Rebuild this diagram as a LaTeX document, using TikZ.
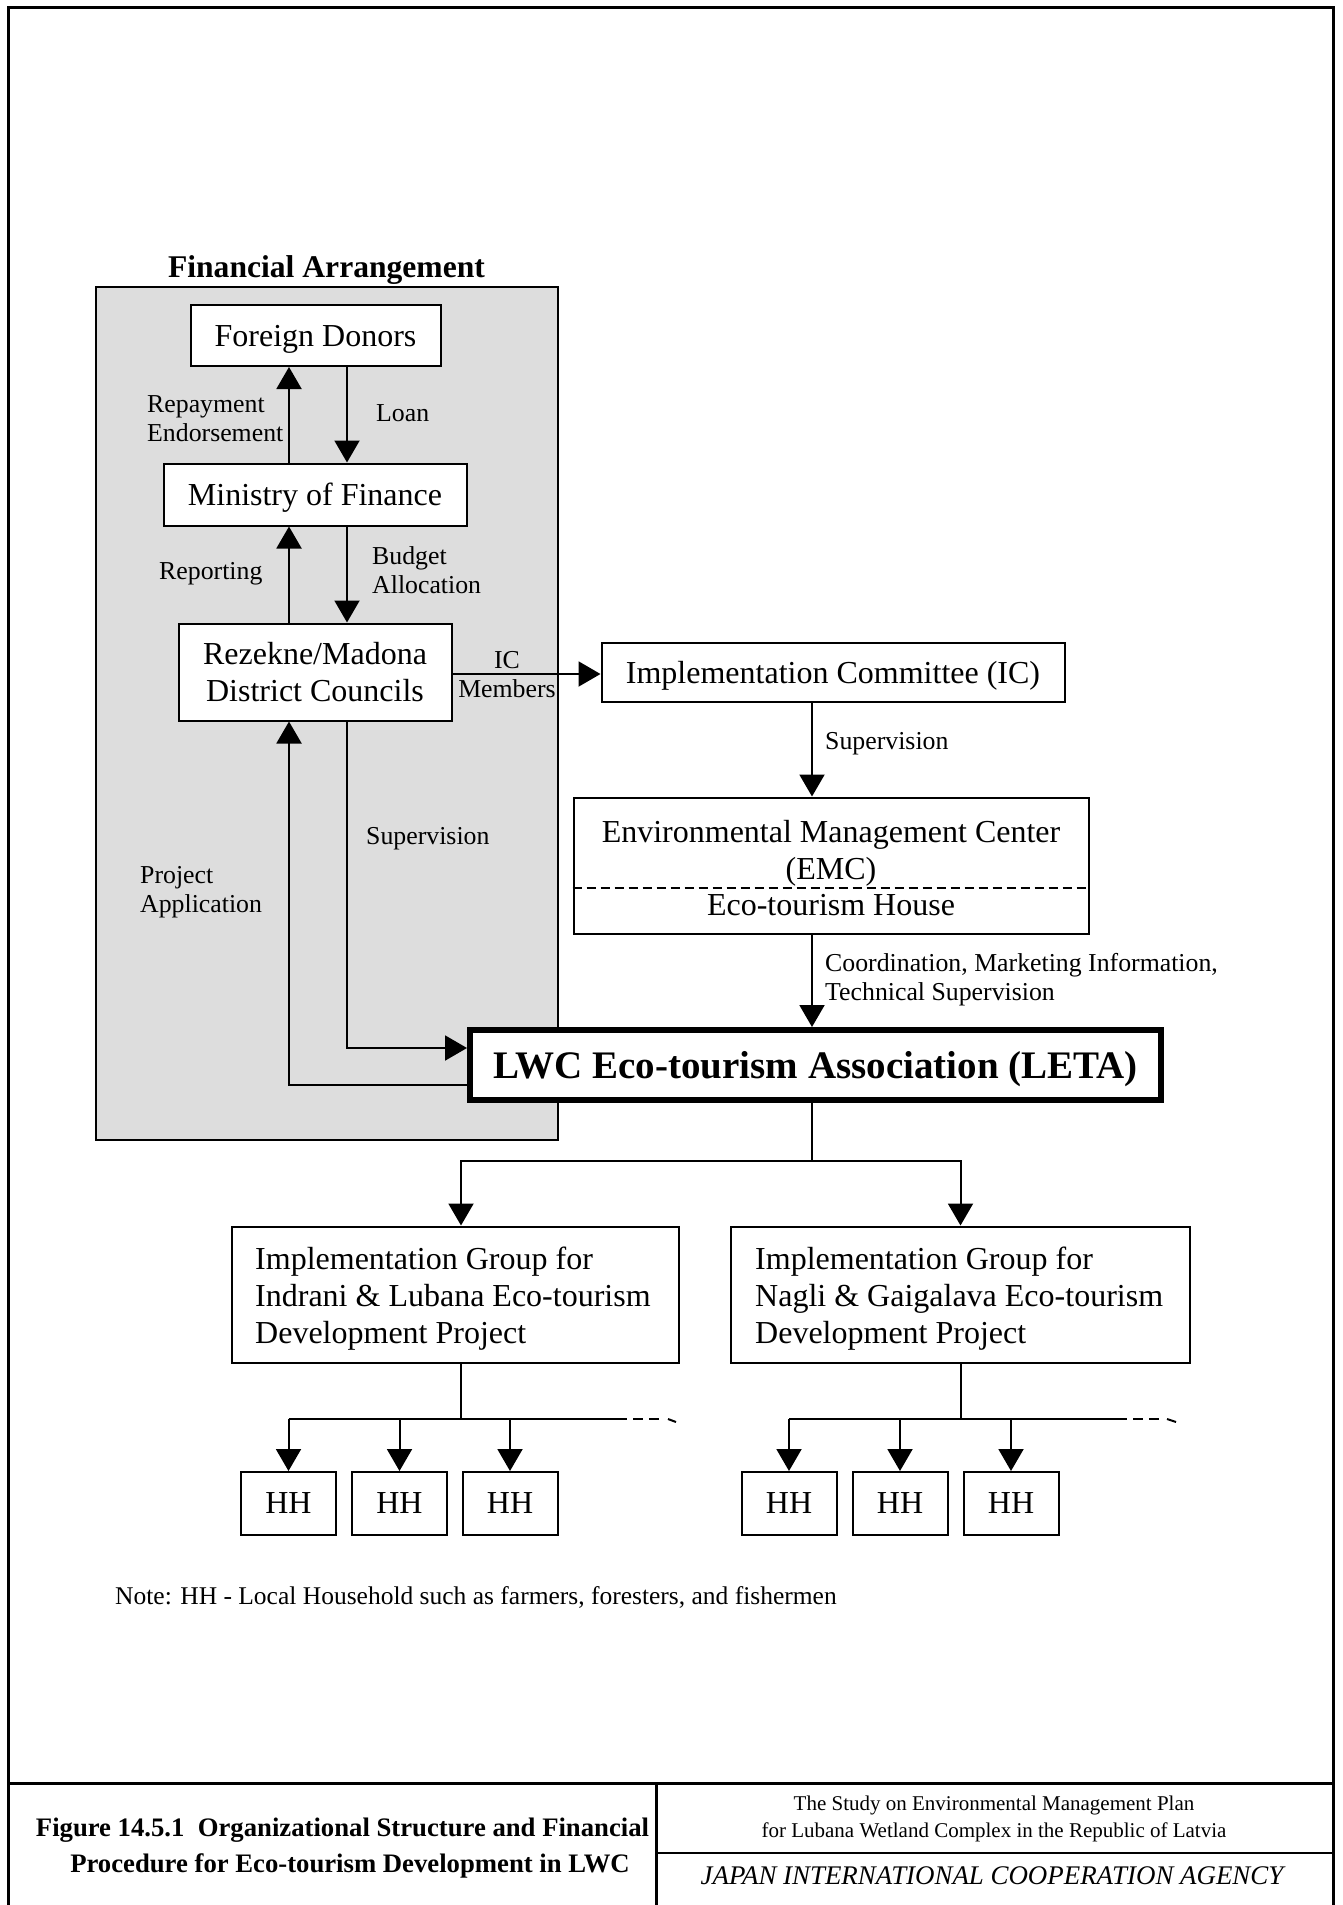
\documentclass[tikz,border=0pt]{standalone}
\usepackage{fontspec}
\setmainfont{Liberation Serif}
\usetikzlibrary{arrows.meta}
\definecolor{panelgray}{RGB}{221,221,221}
\begin{document}
\begin{tikzpicture}[x=1pt,y=-1pt,
  box/.style={draw,line width=2pt,fill=white,inner sep=0pt,align=center,text depth=0pt,font=\fontsize{32}{37}\selectfont},
  btext/.style={inner sep=0pt,font=\fontsize{32}{37}\selectfont},
  lbl/.style={inner sep=0pt,align=left,anchor=west,text depth=0pt,font=\fontsize{25.8}{29}\selectfont},
  arr/.style={line width=2pt,-{Triangle[width=25pt,length=22pt]}},
  ln/.style={line width=2pt},
  hh/.style={box,minimum width=95pt,minimum height=63pt},
]
\useasboundingbox (0,0) rectangle (1343,1905);
% outer frame and footer
\draw[line width=3pt] (8,1905) -- (8,8) -- (1333,8) -- (1333,1905);
\draw[line width=3pt] (8,1783) -- (1333,1783);
\draw[line width=3pt] (656,1783) -- (656,1905);
\draw[line width=1.5pt] (656,1853) -- (1333,1853);

% financial arrangement panel
\node[draw,line width=2pt,fill=panelgray,minimum width=462pt,minimum height=853pt,inner sep=0pt] (fin) at (327,713.5) {};
\node[inner sep=0pt,text depth=0pt,font=\bfseries\fontsize{31.6}{34}\selectfont] (fint) at (326.5,267) {Financial Arrangement};

% coordinates for vertical arrow lines
\coordinate (xl) at (289,0);
\coordinate (xr) at (347,0);
\coordinate (xm) at (812,0);
\coordinate (xa) at (461,0);
\coordinate (yic) at (0,674);
\coordinate (ys) at (0,1048);
\coordinate (yp) at (0,1085);

% boxes
\node[box,minimum width=250pt,minimum height=61pt] (fd) at (315.5,335.5) {Foreign Donors};
\node[box,minimum width=303pt,minimum height=62pt] (mof) at (315,494.5) {Ministry of Finance};
\node[box,minimum width=273pt,minimum height=97pt] (rz) at (315,672) {Rezekne/Madona\\District Councils};
\node[box,minimum width=463pt,minimum height=59pt] (ic) at (833,672) {Implementation Committee (IC)};
\node[box,minimum width=515pt,minimum height=136pt] (emc) at (831,865.5) {};
\node[btext,align=center] (emct) at (831,853.5) {Environmental Management Center\\(EMC)};
\node[btext] (emch) at (831,905) {Eco-tourism House};
\draw[line width=2pt,dash pattern=on 9pt off 5pt] (emc.west |- 0,888) -- (emc.east |- 0,888);
\node[box,line width=6pt,minimum width=691pt,minimum height=70pt,font=\bfseries\fontsize{39}{42}\selectfont] (leta) at (815.5,1065) {LWC Eco-tourism Association (LETA)};

\node[box,minimum width=447pt,minimum height=136pt] (igl) at (455,1294.5) {};
\node[btext,anchor=west,align=left] (iglt) at (255,1299) {Implementation Group for\\Indrani \& Lubana Eco-tourism\\Development Project};
\node[box,minimum width=459pt,minimum height=136pt] (igr) at (960.5,1294.5) {};
\node[btext,anchor=west,align=left] (igrt) at (755,1299) {Implementation Group for\\Nagli \& Gaigalava Eco-tourism\\Development Project};

\node[hh] (h1) at (288.5,1503.5) {HH};
\node[hh] (h2) at (399.5,1503.5) {HH};
\node[hh] (h3) at (510,1503.5) {HH};
\node[hh] (h4) at (789,1503.5) {HH};
\node[hh] (h5) at (900,1503.5) {HH};
\node[hh] (h6) at (1011,1503.5) {HH};

% connectors in financial arrangement
\draw[arr] (mof.north -| xl) -- (fd.south -| xl);
\draw[arr] (fd.south -| xr) -- (mof.north -| xr);
\draw[arr] (rz.north -| xl) -- (mof.south -| xl);
\draw[arr] (mof.south -| xr) -- (rz.north -| xr);
\draw[arr] (rz.south -| xr) |- (leta.west |- ys);
\draw[arr] (leta.west |- yp) -| (rz.south -| xl);
\draw[arr] (rz.east |- yic) -- (ic.west |- yic);
\draw[arr] (ic.south -| xm) -- (emc.north -| xm);
\draw[arr] (emc.south -| xm) -- (leta.north -| xm);

% LETA to groups
\coordinate (br) at (812,1161);
\draw[ln] (leta.south -| br) -- (br);
\draw[arr] (br) -| (igl.north -| xa);
\draw[arr] (br) -| (igr.north);

% groups to households
\coordinate (bl) at (0,1419);
\draw[ln] (igl.south -| xa) -- (xa |- bl);
\draw[line width=2.5pt] (h1.north |- bl) -- (617,1419);
\draw[line width=2.5pt,dash pattern=on 10pt off 6pt] (617,1419) -- (662,1419);
\draw[line width=2pt] (668,1419) -- (676,1422);
\draw[arr] (h1.north |- bl) -- (h1.north);
\draw[arr] (h2.north |- bl) -- (h2.north);
\draw[arr] (h3.north |- bl) -- (h3.north);

\draw[ln] (igr.south) -- (igr.south |- bl);
\draw[line width=2.5pt] (h4.north |- bl) -- (1117,1419);
\draw[line width=2.5pt,dash pattern=on 10pt off 6pt] (1117,1419) -- (1162,1419);
\draw[line width=2pt] (1167,1419) -- (1176,1422);
\draw[arr] (h4.north |- bl) -- (h4.north);
\draw[arr] (h5.north |- bl) -- (h5.north);
\draw[arr] (h6.north |- bl) -- (h6.north);

% labels
\node[lbl] (l1) at (147,419) {Repayment\\Endorsement};
\node[lbl] (l2) at (376,413) {Loan};
\node[lbl] (l3) at (159,571) {Reporting};
\node[lbl] (l4) at (372,570) {Budget\\Allocation};
\node[lbl,anchor=center,align=center] (l5) at (507,674) {IC\\Members};
\node[lbl] (l6) at (825,741) {Supervision};
\node[lbl] (l7) at (366,836) {Supervision};
\node[lbl] (l8) at (140,889) {Project\\Application};
\node[lbl] (l9) at (825,977) {Coordination, Marketing Information,\\Technical Supervision};

\node[inner sep=0pt,anchor=west,font=\fontsize{25.5}{29}\selectfont] (note) at (115,1597) {Note: HH - Local Household such as farmers, foresters, and fishermen};

% footer texts
\node[inner sep=0pt,font=\bfseries\fontsize{26.7}{30}\selectfont] (cap1) at (342.5,1830) {Figure 14.5.1\ \ Organizational Structure and Financial};
\node[inner sep=0pt,font=\bfseries\fontsize{26.7}{30}\selectfont] (cap2) at (350,1866) {Procedure for Eco-tourism Development in LWC};
\node[inner sep=0pt,font=\fontsize{21}{24}\selectfont] (st1) at (994,1805) {The Study on Environmental Management Plan};
\node[inner sep=0pt,font=\fontsize{21}{24}\selectfont] (st2) at (994,1832) {for Lubana Wetland Complex in the Republic of Latvia};
\node[inner sep=0pt,font=\itshape\fontsize{26.9}{30}\selectfont] (jica) at (992,1876) {JAPAN INTERNATIONAL COOPERATION AGENCY};
\end{tikzpicture}
\end{document}
